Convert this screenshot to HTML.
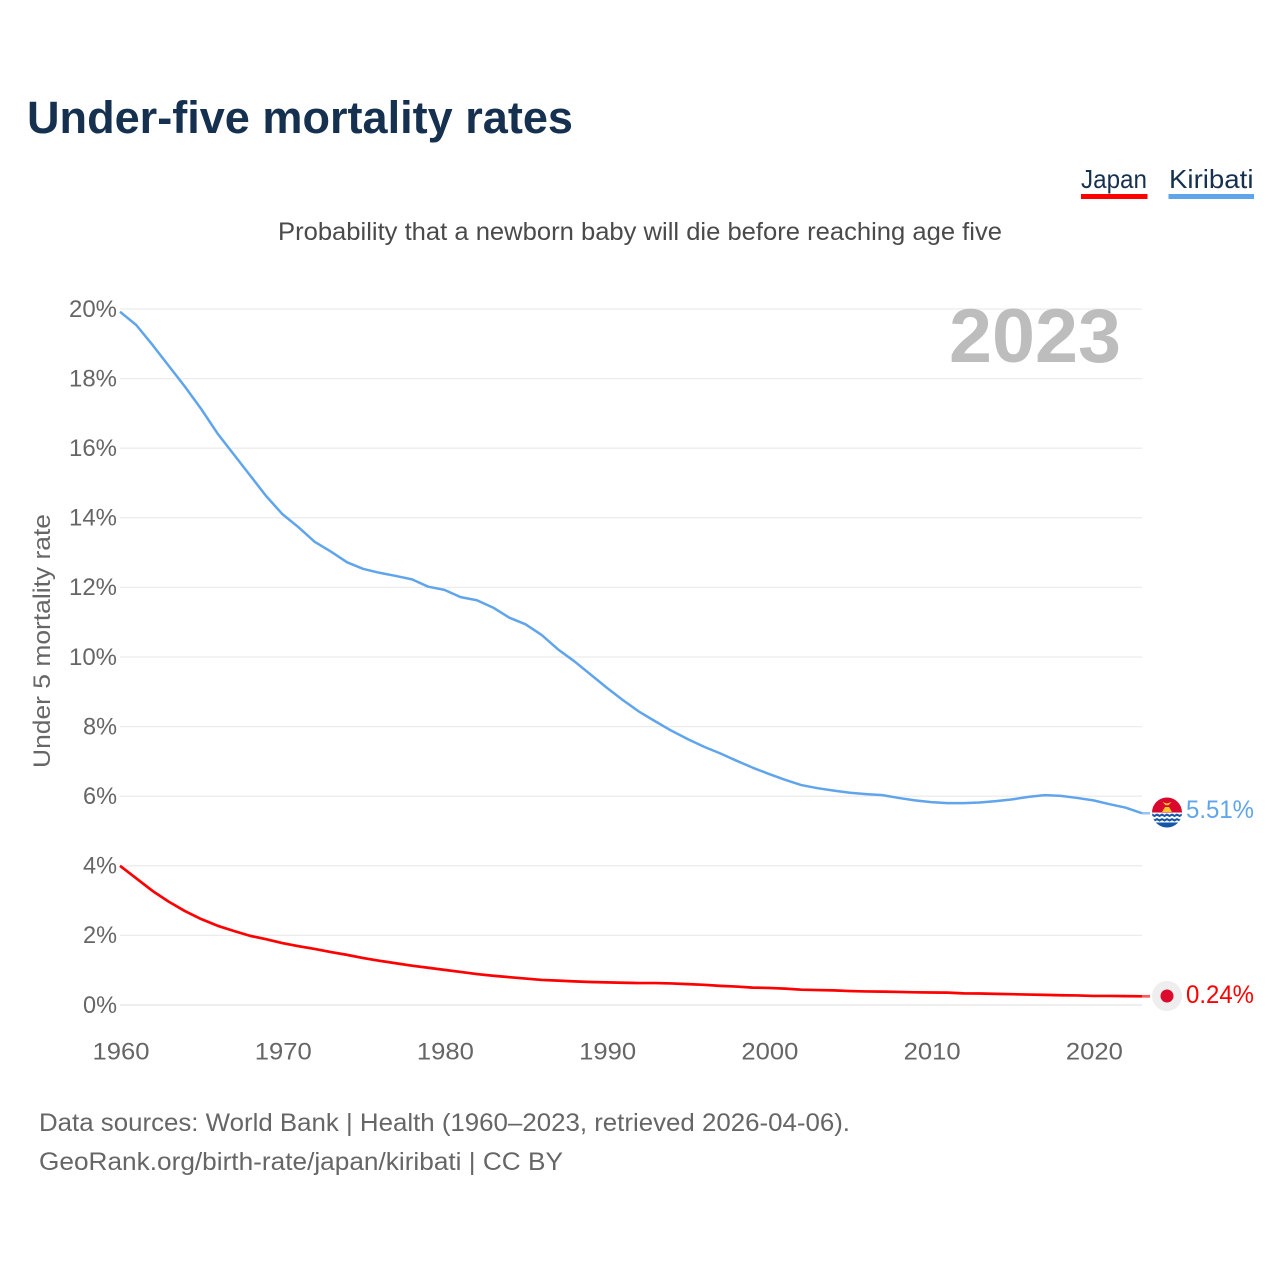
<!DOCTYPE html>
<html lang="en">
<head>
<meta charset="utf-8">
<title>Under-five mortality rates</title>
<style>
html,body{margin:0;padding:0;background:#fff;}
svg{display:block;font-family:"Liberation Sans",sans-serif;}
</style>
</head>
<body>
<svg id="chart" width="1280" height="1280" viewBox="0 0 1280 1280" xmlns="http://www.w3.org/2000/svg">
  <defs>
    <clipPath id="flag-clip"><circle cx="1167" cy="812.5" r="15"/></clipPath>
  </defs>
  <rect width="1280" height="1280" fill="#fff"/>
  <text x="27" y="133" font-size="45" font-weight="700" fill="#16304f" textLength="546" lengthAdjust="spacingAndGlyphs">Under-five mortality rates</text>
  <g>
    <text x="1081" y="188" font-size="26" fill="#16304f" textLength="66" lengthAdjust="spacingAndGlyphs">Japan</text>
    <rect x="1081" y="194" width="66.5" height="5" fill="#ff0000"/>
  </g>
  <g>
    <text x="1169" y="188" font-size="26" fill="#16304f" textLength="84.5" lengthAdjust="spacingAndGlyphs">Kiribati</text>
    <rect x="1168.5" y="194" width="85.5" height="5" fill="#60a5ec"/>
  </g>
  <text x="278" y="240" font-size="25" fill="#4a4a4a" textLength="724" lengthAdjust="spacingAndGlyphs">Probability that a newborn baby will die before reaching age five</text>
  <text transform="translate(50,768) rotate(-90)" font-size="24.5" fill="#666" textLength="254" lengthAdjust="spacingAndGlyphs">Under 5 mortality rate</text>
  <g id="grid"></g>
  <g id="y-ticks"></g>
  <g id="x-ticks"></g>
  <text id="year-label" x="949" y="362" font-size="76" font-weight="700" fill="#bdbdbd" textLength="172" lengthAdjust="spacingAndGlyphs">2023</text>
  <g id="series"></g>
  <g clip-path="url(#flag-clip)">
    <rect x="1152" y="797" width="30" height="16" fill="#d9082f"/>
    <rect x="1152" y="812.5" width="30" height="16" fill="#fff"/>
    <path d="M1162 812l3-5h4l3 5z" fill="#fcc42d"/>
    <path d="M1162.500 802l4.500 1.500 4.500-1.500-3 3.200h-3z" fill="#fcc42d"/>
    <path d="M1152 813.500l2.500 1.300 2.500-1.300 2.500 1.300 2.500-1.300 2.500 1.300 2.500-1.300 2.500 1.300 2.500-1.300 2.500 1.300 2.500-1.300 2.500 1.300 2.500-1.300v2.300l-2.500 1.300-2.500-1.300-2.500 1.300-2.500-1.300-2.500 1.300-2.500-1.300-2.500 1.300-2.500-1.300-2.500 1.300-2.500-1.300-2.500 1.300-2.500-1.300z" fill="#1456a8"/>
    <path d="M1152 818l2.500 1.300 2.500-1.300 2.500 1.300 2.500-1.300 2.500 1.300 2.500-1.300 2.500 1.300 2.500-1.300 2.500 1.300 2.500-1.300 2.500 1.300 2.500-1.300v2.300l-2.500 1.300-2.500-1.300-2.500 1.300-2.500-1.300-2.500 1.300-2.500-1.300-2.500 1.300-2.500-1.300-2.500 1.300-2.500-1.300-2.500 1.300-2.500-1.300z" fill="#1456a8"/>
    <path d="M1152 822.500h30V829h-30z" fill="#1456a8"/>
  </g>
  <g>
    <circle cx="1167" cy="996" r="15" fill="#eeeeee"/>
    <circle cx="1167" cy="996" r="6.500" fill="#dc0a2d"/>
  </g>
  <text id="end-kiribati" x="1186" y="818" font-size="25" fill="#60a5ec" textLength="68" lengthAdjust="spacingAndGlyphs"></text>
  <text id="end-japan" x="1186" y="1003" font-size="25" fill="#ff0000" textLength="68" lengthAdjust="spacingAndGlyphs"></text>
  <text x="39" y="1131" font-size="25" fill="#666" textLength="811" lengthAdjust="spacingAndGlyphs">Data sources: World Bank | Health (1960–2023, retrieved 2026-04-06).</text>
  <text x="39" y="1170" font-size="25" fill="#666" textLength="524" lengthAdjust="spacingAndGlyphs">GeoRank.org/birth-rate/japan/kiribati | CC BY</text>
</svg>
<script>
const startYear = 1960;
const kiribatiValues = [19.92,19.54,18.97,18.37,17.77,17.13,16.43,15.83,15.23,14.63,14.11,13.73,13.31,13.03,12.72,12.53,12.42,12.33,12.23,12.02,11.93,11.72,11.63,11.42,11.13,10.94,10.63,10.22,9.88,9.50,9.12,8.76,8.43,8.15,7.88,7.64,7.42,7.23,7.02,6.82,6.64,6.47,6.32,6.23,6.16,6.10,6.06,6.03,5.95,5.88,5.83,5.80,5.80,5.82,5.86,5.91,5.98,6.03,6.01,5.95,5.88,5.77,5.67,5.51];
const japanValues = [4.00,3.64,3.28,2.97,2.70,2.47,2.28,2.13,1.99,1.89,1.78,1.69,1.61,1.52,1.44,1.35,1.27,1.20,1.13,1.07,1.01,0.95,0.89,0.84,0.80,0.76,0.72,0.70,0.68,0.66,0.65,0.64,0.63,0.63,0.62,0.60,0.58,0.55,0.53,0.50,0.49,0.47,0.44,0.43,0.42,0.40,0.39,0.385,0.375,0.365,0.36,0.355,0.335,0.33,0.32,0.31,0.30,0.29,0.28,0.275,0.26,0.26,0.255,0.25];
const yTickValues = [0,2,4,6,8,10,12,14,16,18,20];
const xTickYears = [1960,1970,1980,1990,2000,2010,2020];
const kiribatiEndLabel = "5.51%";
const japanEndLabel = "0.24%";

const NS = "http://www.w3.org/2000/svg";
const plotLeft = 120, plotRight = 1142, zeroY = 1005, pxPerPercent = 34.8;
const lastIndex = kiribatiValues.length - 1;
function xScale(year){ return plotLeft + (year - startYear) * (plotRight - plotLeft) / lastIndex; }
function yScale(v){ return zeroY - v * pxPerPercent; }
function make(tag, parent){ const el = document.createElementNS(NS, tag); parent.appendChild(el); return el; }

const grid = document.getElementById("grid");
const yTicks = document.getElementById("y-ticks");
yTickValues.forEach(function(v){
  const line = make("line", grid);
  
  
  line.setAttribute("x1", plotLeft);
  line.setAttribute("x2", plotRight);
  line.setAttribute("y1", yScale(v));
  line.setAttribute("y2", yScale(v));
  line.setAttribute("stroke", v === 0 ? "#e9e9e9" : "#ececec");
  line.setAttribute("stroke-width", v === 0 ? 1.6 : 1.3);
  const t = make("text", yTicks);
  
  
  const label = v + "%";
  t.textContent = label;
  const w = (label.length - 1) * 14 + 20;
  t.setAttribute("x", 117 - w);
  t.setAttribute("y", yScale(v) + 7.8);
  t.setAttribute("font-size", "24.5");
  t.setAttribute("fill", "#666");
  t.setAttribute("textLength", w);
  t.setAttribute("lengthAdjust", "spacingAndGlyphs");
});

const xTicks = document.getElementById("x-ticks");
xTickYears.forEach(function(y){
  const t = make("text", xTicks);
  
  
  t.textContent = y;
  t.setAttribute("x", xScale(y) + 1 - 28.5);
  t.setAttribute("y", 1059.5);
  t.setAttribute("font-size", "24.5");
  t.setAttribute("fill", "#666");
  t.setAttribute("textLength", 57);
  t.setAttribute("lengthAdjust", "spacingAndGlyphs");
});

const seriesGroup = document.getElementById("series");
function drawSeries(values, color, width, lineName, stubName){
  const pts = values.map(function(v, i){ return xScale(startYear + i).toFixed(2) + "," + yScale(v).toFixed(2); });
  const p = make("polyline", seriesGroup);
  
  
  p.setAttribute("points", pts.join(" "));
  p.setAttribute("fill", "none");
  p.setAttribute("stroke", color);
  p.setAttribute("stroke-width", width);
  p.setAttribute("stroke-linejoin", "round");
  const stub = make("line", seriesGroup);
  
  
  const endY = yScale(values[values.length - 1]);
  stub.setAttribute("x1", plotRight);
  stub.setAttribute("x2", plotRight + 8);
  stub.setAttribute("y1", endY);
  stub.setAttribute("y2", endY);
  stub.setAttribute("stroke", color);
  stub.setAttribute("stroke-width", width);
  stub.setAttribute("stroke-opacity", "0.65");
}
drawSeries(kiribatiValues, "#60a5ec", 2.5, "line-kiribati", "connector-kiribati");
drawSeries(japanValues, "#ff0000", 2.7, "line-japan", "connector-japan");

document.getElementById("end-kiribati").textContent = kiribatiEndLabel;
document.getElementById("end-japan").textContent = japanEndLabel;
</script>
</body>
</html>
